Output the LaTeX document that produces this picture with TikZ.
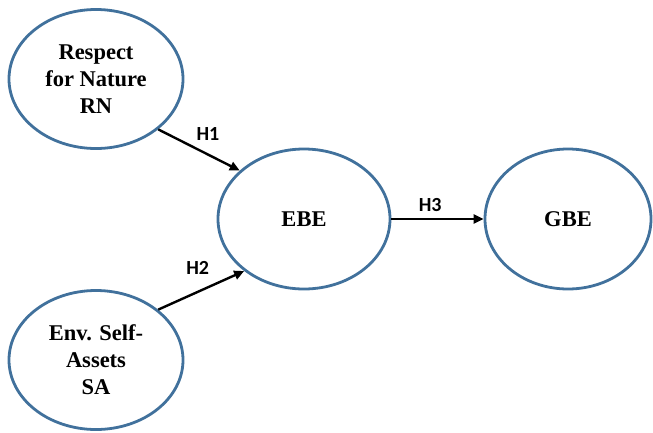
\documentclass[tikz,border=0pt]{standalone}
\usepackage{fontspec}
\setmainfont{Liberation Serif}
\newfontfamily\hypfont{Carlito}
\usetikzlibrary{shapes.geometric,arrows.meta}
\definecolor{rimblue}{RGB}{65,113,156}
\tikzset{hyplabel/.style={font=\hypfont\bfseries\fontsize{20}{20}\selectfont}}

\begin{document}
\begin{tikzpicture}[x=1pt,y=-1pt]
\useasboundingbox (0,0) rectangle (653,432);
\begin{scope}[every node/.style={ellipse,draw=rimblue,line width=2.8pt,inner sep=0pt,
              minimum width=174pt,minimum height=139pt,align=center,
              font=\fontsize{22.5}{27}\selectfont\bfseries}]
    \node (RN) at (96,79) {Respect\\for Nature\\RN};
    \node (SA) at (96,360) {Env. Self-\\Assets\\SA};
    \node[minimum width=172pt,minimum height=140pt] (EBE) at (304,219) {EBE};
    \node[minimum width=166pt,minimum height=140pt] (GBE) at (568,219) {GBE};
\end{scope}
\begin{scope}[>={Triangle[length=10pt,width=9pt]},
              every edge/.style={draw=black,line width=2.4pt}]
    \path [->] (RN.-39) edge node[hyplabel,pos=0.61,above=9pt] {H1} (EBE.143);
    \path [->] (SA.39) edge node[hyplabel,pos=0.46,above=13pt] {H2} (EBE.-139);
    \path [->] (EBE.east) edge node[hyplabel,pos=0.42,above=3pt] {H3} (GBE.west);
\end{scope}
\end{tikzpicture}
\end{document}
